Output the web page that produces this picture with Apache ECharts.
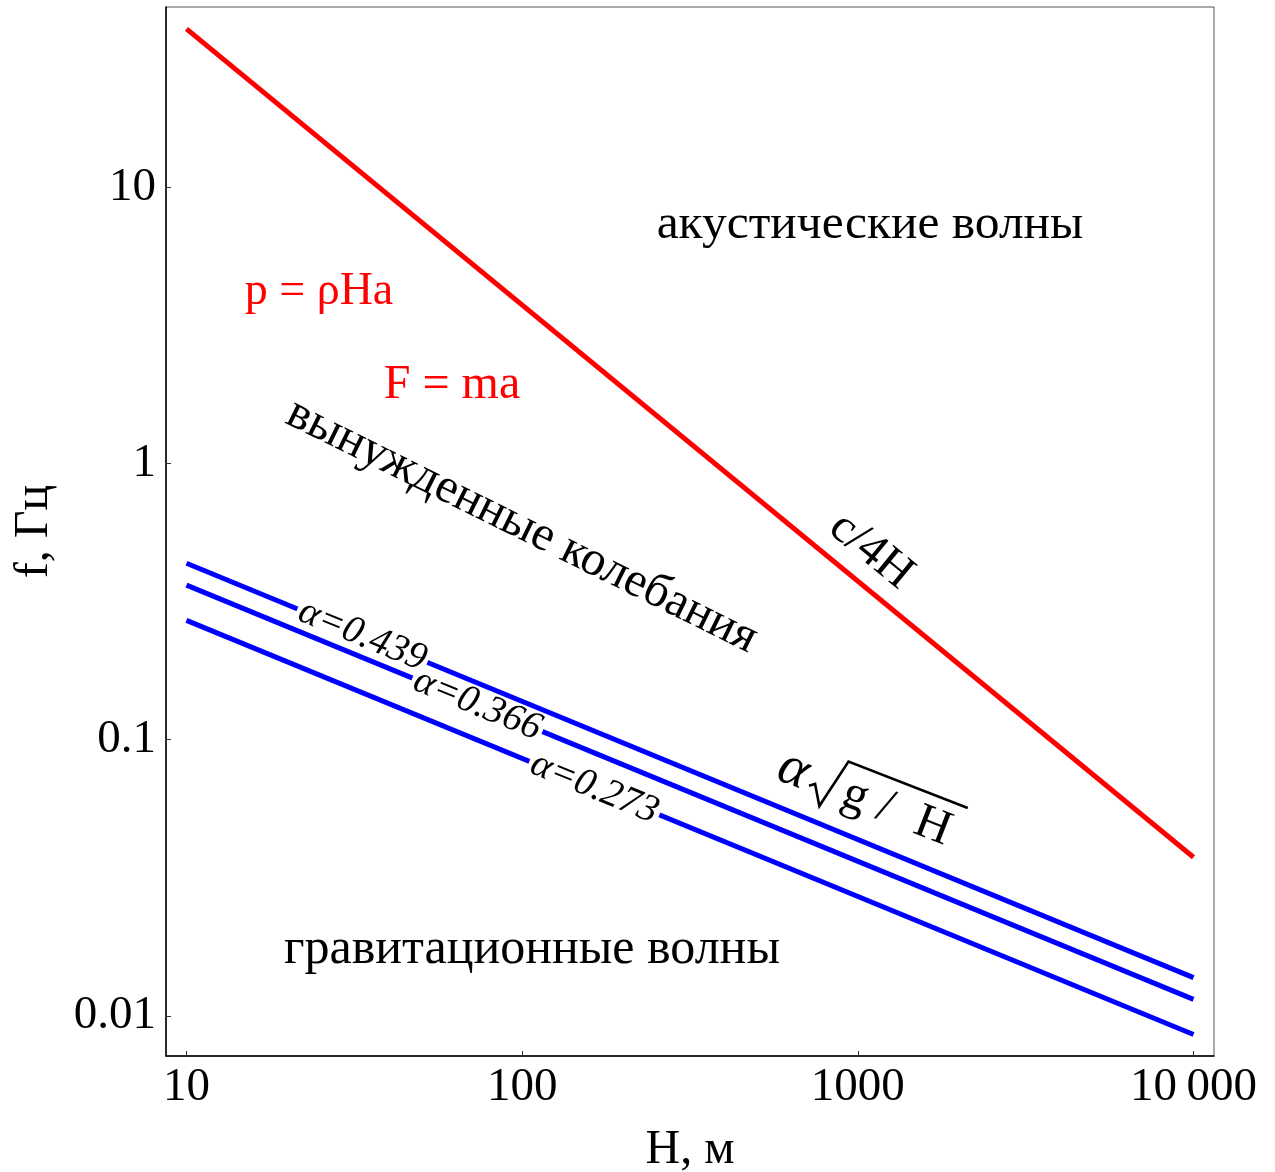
<!DOCTYPE html>
<html>
<head>
<meta charset="utf-8">
<script src="https://cdn.jsdelivr.net/npm/echarts@6/dist/echarts.min.js"></script>
<style>
  html, body { margin: 0; padding: 0; background: #fff; }
  #chart { width: 1275px; height: 1172px; }
</style>
</head>
<body>
<div id="chart"></div>
<script>
// Depth H (m) at the two ends of every curve
const DEPTHS = [10, 10000];
// c/4H, c = 1500 m/s
const F_ACOUSTIC = [37.5, 0.0375];
// alpha * sqrt(g/H) for three alpha values
const F_ALPHA_439 = [0.435, 0.01375];
const F_ALPHA_366 = [0.3625, 0.01146];
const F_ALPHA_273 = [0.2704, 0.00855];

const X_TICKS = [10, 100, 1000, 10000];
const X_TICK_TEXT = ['10', '100', '1000', '10\u2009000'];
const Y_TICKS = [0.01, 0.1, 1, 10];
const Y_TICK_TEXT = ['0.01', '0.1', '1', '10'];

const SERIF = 'Liberation Serif';

function pairs(ys) {
  return DEPTHS.map((h, i) => [h, ys[i]]);
}

function tickText(values, texts) {
  return function (v) {
    for (let i = 0; i < values.length; i++) {
      if (Math.abs(Math.log10(v) - Math.log10(values[i])) < 1e-6) return texts[i];
    }
    return '';
  };
}

// inline curve label that interrupts the line under it
function alphaLabel(text, coord) {
  return {
    silent: true,
    symbol: 'circle',
    symbolSize: 1,
    itemStyle: { color: 'rgba(0,0,0,0)' },
    data: [{
      coord: coord,
      label: {
        show: true,
        position: 'inside',
        formatter: text,
        rotate: -22.35,
        fontFamily: SERIF,
        fontStyle: 'italic',
        fontSize: 39,
        color: '#000',
        backgroundColor: '#fff',
        lineHeight: 10,
        padding: [0, 3]
      }
    }]
  };
}

function font(size, style) {
  return (style ? style + ' ' : '') + size + 'px "' + SERIF + '"';
}

const chart = echarts.init(document.getElementById('chart'), null, { renderer: 'canvas' });

const option = {
  backgroundColor: '#fff',
  animation: false,
  grid: {
    left: 166, right: 61, top: 7, bottom: 116,
    outerBoundsMode: 'none',
    containLabel: false,
    show: true, borderColor: '#555', borderWidth: 1, backgroundColor: 'transparent'
  },
  xAxis: {
    type: 'log',
    logBase: 10,
    min: 8.69,
    max: 11510,
    name: 'H, м',
    nameLocation: 'middle',
    nameGap: 70,
    nameTextStyle: { fontFamily: SERIF, fontSize: 48, color: '#000' },
    axisLine: { show: true, lineStyle: { color: '#000', width: 1.5 } },
    axisTick: { show: true, inside: true, length: 5, lineStyle: { color: '#333', width: 1 } },
    minorTick: { show: false },
    splitLine: { show: false },
    axisLabel: {
      showMinLabel: false, showMaxLabel: false,
      margin: 8,
      fontFamily: SERIF, fontSize: 47, color: '#000',
      formatter: tickText(X_TICKS, X_TICK_TEXT)
    }
  },
  yAxis: {
    type: 'log',
    logBase: 10,
    min: 0.00715,
    max: 44.98,
    name: 'f, Гц',
    nameLocation: 'middle',
    nameGap: 108,
    nameTextStyle: { fontFamily: SERIF, fontSize: 48, color: '#000' },
    axisLine: { show: true, lineStyle: { color: '#000', width: 1.5 } },
    axisTick: { show: true, inside: true, length: 5, lineStyle: { color: '#333', width: 1 } },
    minorTick: { show: false },
    splitLine: { show: false },
    axisLabel: {
      showMinLabel: false, showMaxLabel: false,
      margin: 10,
      fontFamily: SERIF, fontSize: 47, color: '#000',
      formatter: tickText(Y_TICKS, Y_TICK_TEXT)
    }
  },
  series: [
    {
      name: 'c/4H',
      type: 'line',
      data: pairs(F_ACOUSTIC),
      showSymbol: false,
      lineStyle: { color: '#ff0000', width: 5 },
      z: 3
    },
    {
      name: 'α=0.439',
      type: 'line',
      data: pairs(F_ALPHA_439),
      showSymbol: false,
      lineStyle: { color: '#0000ff', width: 5 },
      markPoint: alphaLabel('α=0.439', [33.43, 0.2379]),
      z: 3
    },
    {
      name: 'α=0.366',
      type: 'line',
      data: pairs(F_ALPHA_366),
      showSymbol: false,
      lineStyle: { color: '#0000ff', width: 5 },
      markPoint: alphaLabel('α=0.366', [73.57, 0.1336]),
      z: 3
    },
    {
      name: 'α=0.273',
      type: 'line',
      data: pairs(F_ALPHA_273),
      showSymbol: false,
      lineStyle: { color: '#0000ff', width: 5 },
      markPoint: alphaLabel('α=0.273', [164.1, 0.06675]),
      z: 3
    }
  ],
  graphic: [
    {
      type: 'text', x: 870, y: 225, z: 50,
      style: { text: 'акустические волны', font: font(49.5), fill: '#000', textAlign: 'center', textVerticalAlign: 'middle' }
    },
    {
      type: 'text', x: 532, y: 950, z: 50,
      style: { text: 'гравитационные волны', font: font(50), fill: '#000', textAlign: 'center', textVerticalAlign: 'middle' }
    },
    {
      type: 'text', x: 319, y: 292, z: 50,
      style: { text: 'p = ρHa', font: font(46), fill: '#ff0000', textAlign: 'center', textVerticalAlign: 'middle' }
    },
    {
      type: 'text', x: 452, y: 385, z: 50,
      style: { text: 'F = ma', font: font(48), fill: '#ff0000', textAlign: 'center', textVerticalAlign: 'middle' }
    },
    {
      type: 'text', x: 522, y: 526, z: 50, rotation: -26.4 * Math.PI / 180,
      style: { text: 'вынужденные колебания', font: font(49), fill: '#000', textAlign: 'center', textVerticalAlign: 'middle' }
    },
    {
      type: 'text', x: 871, y: 551, z: 50, rotation: -39.4 * Math.PI / 180,
      style: { text: 'c/4H', font: font(48), fill: '#000', textAlign: 'center', textVerticalAlign: 'middle' }
    },
    {
      // alpha * sqrt(g / H) written along the blue curves
      type: 'group', x: 870, y: 800, z: 50, rotation: -21.3 * Math.PI / 180,
      children: [
        { type: 'text', x: -82, y: 0, style: { text: 'α', font: font(56, 'italic'), fill: '#000', textAlign: 'center', textVerticalAlign: 'middle' } },
        { type: 'polyline', shape: { points: [[-62, 9], [-57, 5], [-45, 24], [-34, -28], [94, -28]] }, style: { stroke: '#000', lineWidth: 2.6, fill: null, lineJoin: 'miter' } },
        { type: 'text', x: -15, y: 2, style: { text: 'g', font: font(49), fill: '#000', textAlign: 'center', textVerticalAlign: 'middle' } },
        { type: 'text', x: 17, y: 2, style: { text: '/', font: font(49), fill: '#000', textAlign: 'center', textVerticalAlign: 'middle' } },
        { type: 'text', x: 68, y: 2, style: { text: 'H', font: font(49), fill: '#000', textAlign: 'center', textVerticalAlign: 'middle' } }
      ]
    }
  ]
};

chart.setOption(option);
</script>
</body>
</html>
